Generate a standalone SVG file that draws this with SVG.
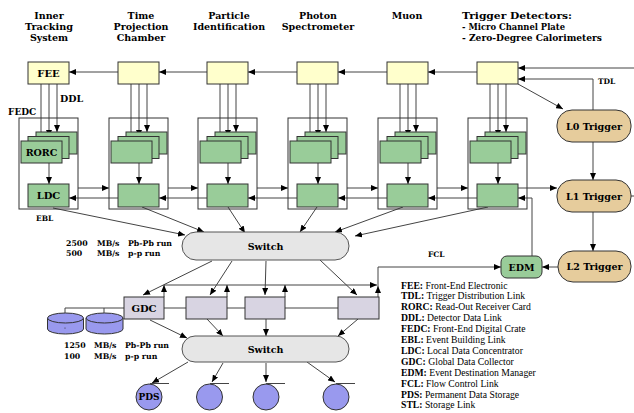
<svg xmlns="http://www.w3.org/2000/svg" width="634" height="413" viewBox="0 0 634 413">
<style>
.ln{fill:none;stroke:#444;stroke-width:1}
.ar{fill:none;stroke:#444;stroke-width:1;marker-end:url(#ah)}
.fee{fill:#ffffcc;stroke:#333;stroke-width:1}
.grn{fill:#99cc99;stroke:#333;stroke-width:1}
.crate{fill:none;stroke:#333;stroke-width:1}
.trg{fill:#e6cc9c;stroke:#333;stroke-width:1}
.gdc{fill:#d8d4e2;stroke:#333;stroke-width:1}
.sw{fill:#e6e6e6;stroke:#555;stroke-width:1}
.dsk{fill:#9999ee;stroke:#333;stroke-width:1}
.t{font-family:"DejaVu Serif",serif;font-weight:bold;fill:#000}
.c{text-anchor:middle}
.m{dominant-baseline:central}
.lg{font-family:"Liberation Serif",serif;font-size:9.7px;fill:#000}
</style>
<defs>
<marker id="ah" markerUnits="userSpaceOnUse" markerWidth="7" markerHeight="6" refX="7" refY="3" orient="auto">
<path d="M0,0 L7,3 L0,6 z" fill="#000"/>
</marker>
</defs>
<rect width="634" height="413" fill="#fff"/>

<g id="titles" class="t" font-size="9.5">
<text x="49" y="18.5" class="c">Inner</text>
<text x="49" y="29.5" class="c" textLength="48" lengthAdjust="spacingAndGlyphs">Tracking</text>
<text x="49" y="40.5" class="c">System</text>
<text x="141" y="18.5" class="c">Time</text>
<text x="141" y="29.5" class="c">Projection</text>
<text x="141" y="40.5" class="c">Chamber</text>
<text x="229" y="18.5" class="c">Particle</text>
<text x="229" y="29.5" class="c">Identification</text>
<text x="318" y="18.5" class="c">Photon</text>
<text x="318" y="29.5" class="c">Spectrometer</text>
<text x="407" y="18.5" class="c">Muon</text>
<text x="462" y="18.5" textLength="110" lengthAdjust="spacingAndGlyphs">Trigger Detectors:</text>
<text x="462" y="29.5" textLength="103" lengthAdjust="spacingAndGlyphs">- Micro Channel Plate</text>
<text x="462" y="40.5" textLength="140" lengthAdjust="spacingAndGlyphs">- Zero-Degree Calorimeters</text>
</g>

<g id="connectors">
<line class="ar" x1="118" y1="72" x2="69" y2="72"/>
<line class="ar" x1="207" y1="72" x2="159" y2="72"/>
<line class="ar" x1="297" y1="72" x2="248" y2="72"/>
<line class="ar" x1="387" y1="72" x2="338" y2="72"/>
<line class="ar" x1="477" y1="72" x2="428" y2="72"/>
<line class="ar" x1="634" y1="68" x2="518" y2="68"/>
<polyline class="ar" points="593,110 593,79 518,79"/>
<line class="ar" x1="518" y1="84" x2="563" y2="109"/>
<line class="ar" x1="593" y1="142" x2="593" y2="180"/>
<line class="ar" x1="593" y1="212" x2="593" y2="251"/>
<line class="ln" x1="631" y1="196" x2="634" y2="196"/>
<line class="ar" x1="558" y1="267" x2="542" y2="267"/>
<g id="ddl">
<line class="ar" x1="41" y1="84" x2="41" y2="141"/><line class="ar" x1="49" y1="84" x2="49" y2="137"/><line class="ar" x1="57" y1="84" x2="57" y2="132"/>
<line class="ar" x1="131" y1="84" x2="131" y2="141"/><line class="ar" x1="139" y1="84" x2="139" y2="137"/><line class="ar" x1="147" y1="84" x2="147" y2="132"/>
<line class="ar" x1="220" y1="84" x2="220" y2="141"/><line class="ar" x1="228" y1="84" x2="228" y2="137"/><line class="ar" x1="236" y1="84" x2="236" y2="132"/>
<line class="ar" x1="310" y1="84" x2="310" y2="141"/><line class="ar" x1="318" y1="84" x2="318" y2="137"/><line class="ar" x1="326" y1="84" x2="326" y2="132"/>
<line class="ar" x1="400" y1="84" x2="400" y2="141"/><line class="ar" x1="408" y1="84" x2="408" y2="137"/><line class="ar" x1="416" y1="84" x2="416" y2="132"/>
<line class="ar" x1="490" y1="84" x2="490" y2="141"/><line class="ar" x1="498" y1="84" x2="498" y2="137"/><line class="ar" x1="506" y1="84" x2="506" y2="132"/>
</g>
<line class="ar" x1="49" y1="163" x2="49" y2="184"/>
<line class="ar" x1="139" y1="163" x2="139" y2="184"/>
<line class="ar" x1="228" y1="163" x2="228" y2="184"/>
<line class="ar" x1="318" y1="163" x2="318" y2="184"/>
<line class="ar" x1="408" y1="163" x2="408" y2="184"/>
<line class="ar" x1="498" y1="163" x2="498" y2="184"/>
<line class="ar" x1="78" y1="188" x2="109" y2="188"/>
<line class="ar" x1="168" y1="188" x2="198" y2="188"/>
<line class="ar" x1="257" y1="188" x2="288" y2="188"/>
<line class="ar" x1="347" y1="188" x2="378" y2="188"/>
<line class="ar" x1="437" y1="188" x2="468" y2="188"/>
<line class="ar" x1="518" y1="188" x2="557" y2="188"/>
<line class="ar" x1="118" y1="198" x2="69" y2="198"/>
<line class="ar" x1="207" y1="198" x2="159" y2="198"/>
<line class="ar" x1="297" y1="198" x2="248" y2="198"/>
<line class="ar" x1="387" y1="198" x2="338" y2="198"/>
<line class="ar" x1="477" y1="198" x2="428" y2="198"/>
<polyline class="ar" points="532,256 532,198 518,198"/>
<line class="ar" x1="53" y1="208" x2="185" y2="235"/>
<line class="ar" x1="142" y1="207" x2="204" y2="232"/>
<line class="ar" x1="228" y1="207" x2="245" y2="233"/>
<line class="ar" x1="317" y1="207" x2="300" y2="232"/>
<line class="ar" x1="403" y1="207" x2="335" y2="232"/>
<line class="ar" x1="488" y1="207" x2="355" y2="236"/>
<line class="ar" x1="212" y1="261" x2="143" y2="295"/>
<line class="ar" x1="232" y1="261" x2="210" y2="295"/>
<line class="ar" x1="266" y1="261" x2="265" y2="295"/>
<line class="ar" x1="320" y1="260" x2="357" y2="295"/>
<line class="ar" x1="164" y1="285" x2="377" y2="285"/>
<line class="ar" x1="164" y1="297" x2="164" y2="285"/>
<line class="ar" x1="227" y1="297" x2="227" y2="285"/>
<line class="ar" x1="285" y1="297" x2="285" y2="285"/>
<line class="ar" x1="378" y1="297" x2="378" y2="286"/>
<polyline class="ar" points="378,286 378,267 501,267"/>
<polyline class="ln" points="65,313 65,308 338,308"/>
<line class="ln" x1="104" y1="308" x2="104" y2="313"/>
<line class="ar" x1="150" y1="320" x2="187" y2="338"/>
<line class="ar" x1="207" y1="319" x2="223" y2="336"/>
<line class="ar" x1="266" y1="319" x2="266" y2="336"/>
<line class="ar" x1="358" y1="319" x2="338" y2="336"/>
<line class="ar" x1="188" y1="362" x2="152" y2="383"/>
<line class="ar" x1="223" y1="363" x2="212" y2="382"/>
<line class="ar" x1="266" y1="363" x2="266" y2="382"/>
<line class="ar" x1="307" y1="362" x2="335" y2="382"/>
</g>

<g id="labels" class="t">
<text x="60" y="102" font-size="9.5">DDL</text>
<text x="8" y="115" font-size="9">FEDC</text>
<text x="36" y="221" font-size="7.5">EBL</text>
<text x="598" y="84" font-size="7.5">TDL</text>
<text x="428" y="257" font-size="7.5">FCL</text>
<g font-size="7.8">
<text x="66" y="246">2500</text><text x="97" y="246">MB/s</text><text x="128" y="246">Pb-Pb run</text>
<text x="66" y="256">500</text><text x="97" y="256">MB/s</text><text x="128" y="256">p-p run</text>
<text x="64" y="348">1250</text><text x="94" y="348">MB/s</text><text x="125" y="348">Pb-Pb run</text>
<text x="64" y="359">100</text><text x="94" y="359">MB/s</text><text x="125" y="359">p-p run</text>
</g>
</g>

<g id="fedc1"><rect class="crate" x="19" y="118" width="59" height="91"/></g>
<g id="fedc2"><rect class="crate" x="109" y="118" width="59" height="91"/></g>
<g id="fedc3"><rect class="crate" x="198" y="118" width="59" height="91"/></g>
<g id="fedc4"><rect class="crate" x="288" y="118" width="59" height="91"/></g>
<g id="fedc5"><rect class="crate" x="378" y="118" width="59" height="91"/></g>
<g id="fedc6"><rect class="crate" x="468" y="118" width="59" height="91"/></g>

<g id="fee1"><rect class="fee" x="28" y="62" width="41" height="22"/><text class="t c m" x="48.5" y="73" font-size="10">FEE</text></g>
<g id="fee2"><rect class="fee" x="118" y="62" width="41" height="22"/></g>
<g id="fee3"><rect class="fee" x="207" y="62" width="41" height="22"/></g>
<g id="fee4"><rect class="fee" x="297" y="62" width="41" height="22"/></g>
<g id="fee5"><rect class="fee" x="387" y="62" width="41" height="22"/></g>
<g id="fee6"><rect class="fee" x="477" y="62" width="41" height="22"/></g>

<g id="rorc1"><rect class="grn" x="36" y="132" width="41" height="22"/><rect class="grn" x="28" y="136.5" width="41" height="22"/><rect class="grn" x="21" y="141" width="41" height="22"/><text class="t c m" x="41.5" y="152" font-size="9.5">RORC</text></g>
<g id="rorc2"><rect class="grn" x="126" y="132" width="41" height="22"/><rect class="grn" x="118" y="136.5" width="41" height="22"/><rect class="grn" x="111" y="141" width="41" height="22"/></g>
<g id="rorc3"><rect class="grn" x="215" y="132" width="41" height="22"/><rect class="grn" x="207" y="136.5" width="41" height="22"/><rect class="grn" x="200" y="141" width="41" height="22"/></g>
<g id="rorc4"><rect class="grn" x="305" y="132" width="41" height="22"/><rect class="grn" x="297" y="136.5" width="41" height="22"/><rect class="grn" x="290" y="141" width="41" height="22"/></g>
<g id="rorc5"><rect class="grn" x="395" y="132" width="41" height="22"/><rect class="grn" x="387" y="136.5" width="41" height="22"/><rect class="grn" x="380" y="141" width="41" height="22"/></g>
<g id="rorc6"><rect class="grn" x="485" y="132" width="41" height="22"/><rect class="grn" x="477" y="136.5" width="41" height="22"/><rect class="grn" x="470" y="141" width="41" height="22"/></g>

<g id="ldc1"><rect class="grn" x="28" y="184" width="41" height="23"/><text class="t c m" x="48.5" y="195.5" font-size="10">LDC</text></g>
<g id="ldc2"><rect class="grn" x="118" y="184" width="41" height="23"/></g>
<g id="ldc3"><rect class="grn" x="207" y="184" width="41" height="23"/></g>
<g id="ldc4"><rect class="grn" x="297" y="184" width="41" height="23"/></g>
<g id="ldc5"><rect class="grn" x="387" y="184" width="41" height="23"/></g>
<g id="ldc6"><rect class="grn" x="477" y="184" width="41" height="23"/></g>

<g id="l0"><rect class="trg" x="557" y="110" width="74" height="32" rx="15"/><text class="t c m" x="594" y="126" font-size="9.5">L0 Trigger</text></g>
<g id="l1"><rect class="trg" x="557" y="180" width="74" height="32" rx="15"/><text class="t c m" x="594" y="196" font-size="9.5">L1 Trigger</text></g>
<g id="l2"><rect class="trg" x="558" y="251" width="73" height="31" rx="15"/><text class="t c m" x="594.5" y="266.5" font-size="9.5">L2 Trigger</text></g>
<g id="edm"><rect class="grn" x="501" y="256" width="41" height="22" rx="6"/><text class="t c m" x="521.5" y="267" font-size="9.5">EDM</text></g>

<g id="switch1"><rect class="sw" x="182" y="232" width="167" height="28" rx="14"/><text class="t c m" x="265.5" y="246" font-size="9.5">Switch</text></g>
<g id="switch2"><rect class="sw" x="182" y="336" width="167" height="26" rx="13"/><text class="t c m" x="265.5" y="349" font-size="9.5">Switch</text></g>

<g id="gdc1"><rect class="gdc" x="124" y="297" width="40" height="22"/><text class="t c m" x="144" y="308" font-size="10">GDC</text></g>
<g id="gdc2"><rect class="gdc" x="186" y="297" width="41" height="22"/></g>
<g id="gdc3"><rect class="gdc" x="245" y="297" width="40" height="22"/></g>
<g id="gdc4"><rect class="gdc" x="338" y="297" width="41" height="22"/></g>

<g id="disk1"><path class="dsk" d="M47.5,318 L47.5,329 A18,5 0 0 0 83.5,329 L83.5,318"/><ellipse class="dsk" cx="65.5" cy="318" rx="18" ry="5"/><circle cx="65" cy="328" r="0.6" fill="#333"/></g>
<g id="disk2"><path class="dsk" d="M86,318 L86,329 A18.5,5 0 0 0 123,329 L123,318"/><ellipse class="dsk" cx="104.5" cy="318" rx="18.5" ry="5"/></g>

<g id="pds1"><circle class="dsk" cx="149" cy="397" r="13"/><line class="ln" x1="150" y1="383.5" x2="169" y2="383.5"/><text class="t c m" x="149" y="397" font-size="9">PDS</text></g>
<g id="pds2"><circle class="dsk" cx="209.5" cy="397" r="13"/><line class="ln" x1="210" y1="383.5" x2="229" y2="383.5"/></g>
<g id="pds3"><circle class="dsk" cx="266" cy="397" r="13"/><line class="ln" x1="266" y1="383.5" x2="285" y2="383.5"/></g>
<g id="pds4"><circle class="dsk" cx="336" cy="397" r="13"/><line class="ln" x1="336" y1="383.5" x2="355" y2="383.5"/></g>

<g id="legend" class="lg">
<text x="401" y="288.5"><tspan font-weight="bold">FEE:</tspan> Front-End Electronic</text>
<text x="401" y="299.4"><tspan font-weight="bold">TDL:</tspan> Trigger Distribution Link</text>
<text x="401" y="310.3"><tspan font-weight="bold">RORC:</tspan> Read-Out Receiver Card</text>
<text x="401" y="321.2"><tspan font-weight="bold">DDL:</tspan> Detector Data Link</text>
<text x="401" y="332.1"><tspan font-weight="bold">FEDC:</tspan> Front-End Digital Crate</text>
<text x="401" y="343"><tspan font-weight="bold">EBL:</tspan> Event Building Link</text>
<text x="401" y="353.9"><tspan font-weight="bold">LDC:</tspan> Local Data Concentrator</text>
<text x="401" y="364.8"><tspan font-weight="bold">GDC:</tspan> Global Data Collector</text>
<text x="401" y="375.7"><tspan font-weight="bold">EDM:</tspan> Event Destination Manager</text>
<text x="401" y="386.6"><tspan font-weight="bold">FCL:</tspan> Flow Control Link</text>
<text x="401" y="397.5"><tspan font-weight="bold">PDS:</tspan> Permanent Data Storage</text>
<text x="401" y="408.4"><tspan font-weight="bold">STL:</tspan> Storage Link</text>
</g>
</svg>
